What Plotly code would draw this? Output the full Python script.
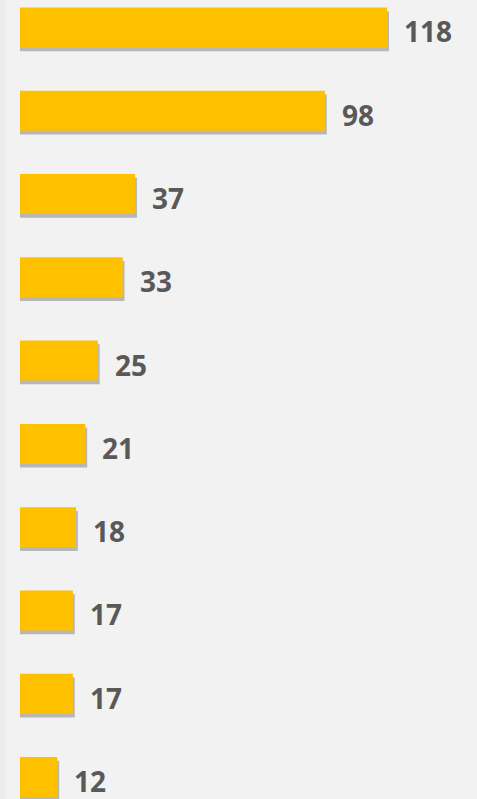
import plotly.graph_objects as go

# values, top to bottom
values = [118, 98, 37, 33, 25, 21, 18, 17, 17, 12]
labels = [str(v) for v in values]
positions = list(range(len(values)))

BAR_COLOR = '#FFC000'
SHADOW_COLOR = 'rgba(110,110,110,0.45)'
TEXT_COLOR = '#595959'

fig = go.Figure()

# soft drop shadow under each bar
fig.add_trace(go.Bar(
    x=[v + 0.6 for v in values],
    y=[p + 0.045 for p in positions],
    orientation='h',
    width=0.48,
    marker={'color': SHADOW_COLOR, 'line': {'width': 0}},
    hoverinfo='skip',
    showlegend=False
))

fig.add_trace(go.Bar(
    x=values,
    y=positions,
    orientation='h',
    width=0.48,
    marker={'color': BAR_COLOR, 'line': {'width': 0}},
    hovertemplate='%{x}<extra></extra>',
    showlegend=False
))

for p, v, lab in zip(positions, values, labels):
    fig.add_annotation(
        x=v, y=p, text=lab,
        xanchor='left', yanchor='middle',
        xshift=15, yshift=-4,
        showarrow=False,
        font={'family': 'Open Sans', 'size': 28, 'color': TEXT_COLOR, 'weight': 'bold'}
    )

fig.update_layout(
    width=477, height=799,
    margin={'l': 0, 'r': 0, 't': 0, 'b': 0},
    paper_bgcolor='#f2f2f2',
    plot_bgcolor='rgba(0,0,0,0)',
    barmode='overlay',
    xaxis={'range': [-6.43, 146.9], 'visible': False, 'fixedrange': True},
    yaxis={'range': [9.264, -0.33], 'visible': False, 'fixedrange': True},
)

# faint darker strip along the left edge, as in the reference
fig.add_shape(type='rect', xref='paper', yref='paper', x0=0, x1=0.012, y0=0, y1=1,
              fillcolor='rgba(0,0,0,0.025)', line={'width': 0}, layer='below')

# drop the browser's default page margin so the figure fills the window
fig.write_html("out.html", config={'displayModeBar': False},
               post_script="document.body.style.margin='0';")
